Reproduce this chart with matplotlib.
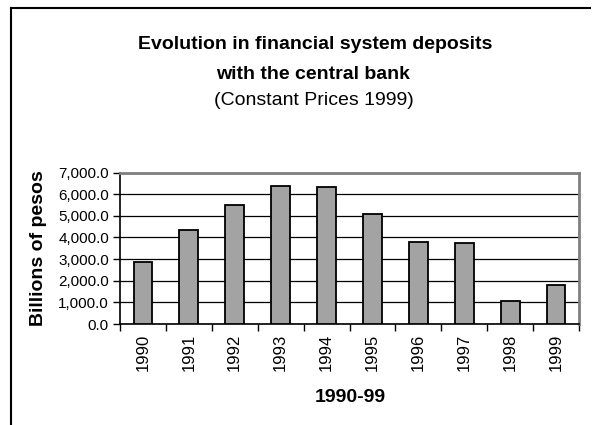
import numpy as np
import matplotlib.pyplot as plt
from matplotlib.lines import Line2D
from matplotlib.ticker import FuncFormatter, FixedLocator

# --- Dati: depositi del sistema finanziario presso la banca centrale ---
years = ['1990', '1991', '1992', '1993', '1994', '1995', '1996', '1997', '1998', '1999']
deposits = [2860, 4340, 5520, 6370, 6350, 5080, 3770, 3740, 1050, 1820]
y_ticks = [0, 1000, 2000, 3000, 4000, 5000, 6000, 7000]

plt.rcParams['font.family'] = ['Liberation Sans', 'DejaVu Sans']

W, H = 600, 425
fig = plt.figure(figsize=(W / 100, H / 100), dpi=100)

def px(x0, y0, x1, y1):
    # rettangolo in pixel (origine in alto a sinistra) -> coordinate figura
    return [x0 / W, 1 - y1 / H, (x1 - x0) / W, (y1 - y0) / H]

# cornice del grafico (visibile solo a sinistra e in alto)
fig.add_artist(Line2D([10.5 / W, 10.5 / W], [0, 1 - 8 / H], color='black', lw=1.5,
                      transform=fig.transFigure))
fig.add_artist(Line2D([10.5 / W, 590 / W], [1 - 8 / H, 1 - 8 / H], color='black', lw=1.5,
                      transform=fig.transFigure))

ax = fig.add_axes(px(120, 172.5, 579, 324))
x = np.arange(len(years))
ax.bar(x, deposits, width=0.41, color='#a3a3a3', edgecolor='black', linewidth=1.3, zorder=3)

ax.set_xlim(-0.5, len(years) - 0.5)
ax.set_ylim(0, 7000)
ax.set_yticks(y_ticks)
ax.yaxis.set_major_formatter(FuncFormatter(lambda v, _: f'{v:,.1f}'))
ax.grid(axis='y', color='black', linewidth=0.9, zorder=1)

ax.set_xticks(x)
ax.set_xticklabels(years, rotation=90, fontsize=12)
ax.xaxis.set_minor_locator(FixedLocator(np.arange(len(years) + 1) - 0.5))
ax.tick_params(axis='x', which='major', length=0, pad=7)
ax.tick_params(axis='x', which='minor', length=5, width=1, direction='out')
ax.tick_params(axis='y', length=5, width=1, direction='out', labelsize=11, pad=3)

for side in ['top', 'right']:
    ax.spines[side].set_color('#808080')
    ax.spines[side].set_linewidth(2)
for side in ['left', 'bottom']:
    ax.spines[side].set_linewidth(1.2)

fig.text(315 / W, 1 - 49 / H, 'Evolution in financial system deposits', ha='center', va='baseline',
         fontsize=14, fontweight='bold')
fig.text(313 / W, 1 - 79 / H, 'with the central bank', ha='center', va='baseline',
         fontsize=14, fontweight='bold')
fig.text(314 / W, 1 - 105 / H, '(Constant Prices 1999)', ha='center', va='baseline', fontsize=14)

fig.text(38.5 / W, 1 - 248 / H, 'Billions of pesos', ha='center', va='center', rotation=90,
         fontsize=14, fontweight='bold')
fig.text(350 / W, 1 - 397 / H, '1990-99', ha='center', va='center', fontsize=14,
         fontweight='bold')

fig.savefig('out.png', dpi=100)
